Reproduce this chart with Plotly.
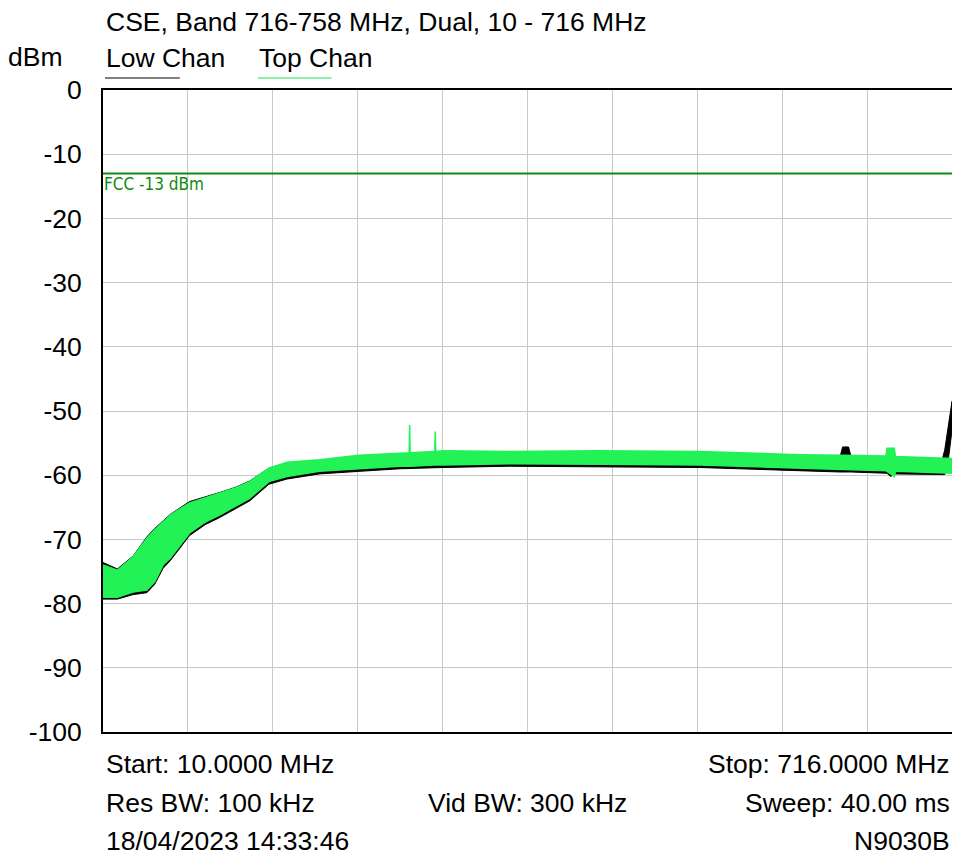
import plotly.graph_objects as go

# ---------------- data ----------------
title_text = "CSE, Band 716-758 MHz, Dual, 10 - 716 MHz"
series_names = ["Low Chan", "Top Chan"]
y_ticks = [0, -10, -20, -30, -40, -50, -60, -70, -80, -90, -100]
y_tick_labels = ["0", "-10", "-20", "-30", "-40", "-50", "-60", "-70", "-80", "-90", "-100"]
x_start_mhz = 10.0
x_stop_mhz = 716.0
limit_dbm = -13
limit_label = "FCC -13 dBm"
footer_left = ["Start: 10.0000 MHz", "Res BW: 100 kHz", "18/04/2023 14:33:46"]
footer_mid = ["", "Vid BW: 300 kHz", ""]
footer_right = ["Stop: 716.0000 MHz", "Sweep: 40.00 ms", "N9030B"]

# Low Chan (black) trace: envelope of the noisy sweep (MHz, dBm)
low_freq = [10, 22, 35, 46.5, 53, 60, 66, 82, 95, 107, 120, 132, 148, 163, 190, 223, 257, 293,
            348, 423, 506, 589, 623, 625, 630, 632, 662, 665, 668, 690, 708, 710, 712, 714, 716]
low_upper = [-73.6, -74.6, -72.6, -69.6, -68.3, -67.1, -66.1, -64.1, -63.4, -62.7, -61.9, -60.9,
             -58.9, -58.1, -57.7, -57.0, -56.7, -56.4, -56.5, -56.4, -56.5, -57.0, -57.1, -55.6,
             -55.6, -57.1, -57.2, -57.2, -57.3, -57.4, -57.5, -56.0, -53.5, -51.0, -48.5]
low_lower = [-79.3, -79.3, -78.6, -78.3, -77.0, -74.5, -73.3, -69.4, -67.7, -66.6, -65.3, -64.0,
             -61.4, -60.6, -59.8, -59.4, -59.0, -58.8, -58.6, -58.7, -58.8, -59.3, -59.5, -59.5,
             -59.5, -59.5, -59.7, -60.2, -59.8, -59.9, -59.9, -59.9, -59.0, -56.0, -53.0]

# Top Chan (green) trace: envelope of the noisy sweep (MHz, dBm)
top_freq = [10, 22, 35, 46.5, 53, 60, 66, 82, 95, 107, 120, 132, 148, 163, 190, 223, 257,
            264.6, 265, 265.4, 285.9, 286.3, 286.7, 293, 348, 423, 506, 589, 625, 661, 662,
            668, 669, 690, 716]
top_upper = [-74.0, -74.8, -72.7, -69.8, -68.5, -67.3, -66.2, -64.3, -63.5, -62.8, -62.0, -61.0,
             -58.9, -58.0, -57.6, -56.9, -56.5, -56.5, -52.2, -56.5, -56.3, -53.2, -56.3, -56.2,
             -56.3, -56.2, -56.3, -56.8, -56.9, -57.0, -55.8, -55.8, -57.1, -57.2, -57.4]
top_lower = [-79.0, -79.0, -78.2, -77.9, -76.6, -74.0, -72.9, -69.0, -67.3, -66.2, -64.9, -63.6,
             -61.0, -60.2, -59.4, -59.0, -58.6, -58.6, -58.6, -58.6, -58.4, -58.4, -58.4, -58.4,
             -58.2, -58.3, -58.4, -58.9, -59.1, -59.3, -59.3, -60.2, -59.4, -59.5, -59.7]

# ---------------- styling ----------------
FONT = "Liberation Sans, Arial, sans-serif"
NARROW = "DejaVu Sans Condensed, Liberation Sans Narrow, sans-serif"
FS = 26.5
LOW_COLOR = "#000000"
TOP_COLOR = "#22F255"
LOW_LEGEND = "#808080"
TOP_LEGEND = "#8CF0A8"
LIMIT_COLOR = "#108A10"

OFF = 8  # page offset of the figure inside the browser window
W, H = 960 - OFF, 857 - OFF
ML, MR, MT, MB = 103 - OFF, 6, 90 - OFF, 125
PH = H - MT - MB
PW = W - ML - MR


def px_to_py(py):
    return (H - MB - (py - OFF)) / PH


def px_to_px(px):
    return ((px - OFF) - ML) / PW


fig = go.Figure()

for name, fx, up, lo, col, lw in [
    (series_names[0], low_freq, low_upper, low_lower, LOW_COLOR, 1),
    (series_names[1], top_freq, top_upper, top_lower, TOP_COLOR, 1.5),
]:
    fig.add_trace(go.Scatter(
        x=list(fx) + list(fx)[::-1],
        y=list(up) + list(lo)[::-1],
        mode="lines", fill="toself", fillcolor=col,
        line=dict(color=col, width=lw),
        name=name, showlegend=False, hoverinfo="skip",
    ))

# limit line
fig.add_shape(type="line", xref="x", yref="y", x0=x_start_mhz, x1=x_stop_mhz,
              y0=limit_dbm, y1=limit_dbm, line=dict(color=LIMIT_COLOR, width=2))
fig.add_annotation(x=x_start_mhz, y=limit_dbm, xref="x", yref="y", text=limit_label,
                   xanchor="left", yanchor="top", showarrow=False, borderpad=0, xshift=0,
                   font=dict(family=NARROW, size=17, color=LIMIT_COLOR))

ann = []
ann.append(dict(x=px_to_px(105), y=px_to_py(22), text=title_text, xanchor="left"))
ann.append(dict(x=px_to_px(35), y=px_to_py(57), text="dBm", xanchor="center"))
ann.append(dict(x=px_to_px(105), y=px_to_py(58), text=series_names[0], xanchor="left"))
ann.append(dict(x=px_to_px(258), y=px_to_py(58), text=series_names[1], xanchor="left"))
for i, py in enumerate([764, 803, 841]):
    ann.append(dict(x=px_to_px(105), y=px_to_py(py), text=footer_left[i], xanchor="left"))
    if footer_mid[i]:
        ann.append(dict(x=px_to_px(528.5), y=px_to_py(py), text=footer_mid[i], xanchor="center"))
    ann.append(dict(x=px_to_px(953), y=px_to_py(py), text=footer_right[i], xanchor="right"))
for a in ann:
    fig.add_annotation(xref="paper", yref="paper", showarrow=False, yanchor="middle",
                       borderpad=0, font=dict(family=FONT, size=FS, color="#000000"), **a)

# legend underlines
fig.add_shape(type="line", xref="paper", yref="paper", x0=px_to_px(105), x1=px_to_px(180),
              y0=px_to_py(78), y1=px_to_py(78), line=dict(color=LOW_LEGEND, width=2))
fig.add_shape(type="line", xref="paper", yref="paper", x0=px_to_px(258), x1=px_to_px(332),
              y0=px_to_py(78), y1=px_to_py(78), line=dict(color=TOP_LEGEND, width=2))

fig.update_layout(
    width=W, height=H,
    margin=dict(l=ML, r=MR, t=MT, b=MB, pad=0),
    paper_bgcolor="white", plot_bgcolor="white",
    font=dict(family=FONT, size=FS, color="#000000"),
    showlegend=False,
)
fig.update_xaxes(range=[x_start_mhz, x_stop_mhz], tick0=x_start_mhz,
                 dtick=(x_stop_mhz - x_start_mhz) / 10, showticklabels=False,
                 showgrid=True, gridcolor="#C8C8C8", gridwidth=1, zeroline=False,
                 showline=True, linecolor="#000000", linewidth=2, mirror=True, ticks="")
fig.update_yaxes(range=[-100, 0], tickvals=y_ticks, ticktext=y_tick_labels,
                 showgrid=True, gridcolor="#C8C8C8", gridwidth=1, zeroline=False,
                 showline=True, linecolor="#000000", linewidth=2, mirror=True, ticks="",
                 ticklabelstandoff=14, tickfont=dict(family=FONT, size=FS, color="#000000"))

fig.write_html("out.html")
